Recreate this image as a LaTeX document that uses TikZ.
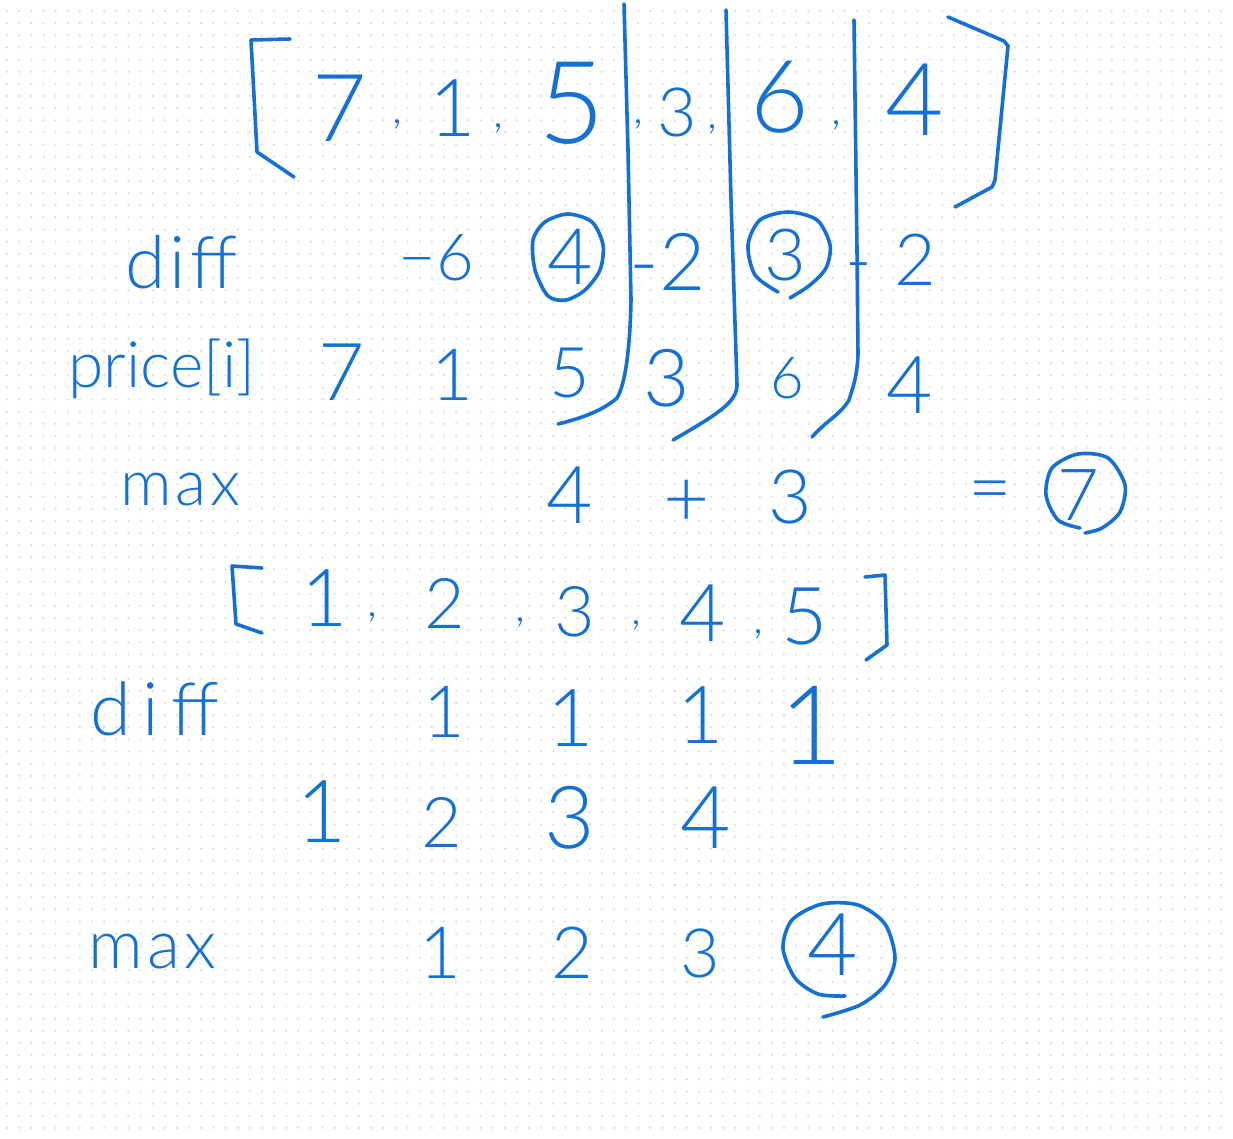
\documentclass[tikz,border=0pt]{standalone}
\usepackage{fontspec}
\setmainfont{Lato Light}
\definecolor{hw}{HTML}{1570D6}
\definecolor{dotc}{HTML}{D8DBE4}
\tikzset{
 ink/.style={draw=hw, line width=3.6pt, line cap=round, line join=round},
 dg/.style={text=hw, inner sep=0pt, font=\fontsize{#1}{#1}\selectfont},
 lab/.style={text=hw, inner sep=0pt, anchor=base west, font=\fontsize{#1}{#1}\selectfont\addfontfeature{LetterSpace=6}},
 dotrow/.style={draw=dotc, line width=2.4pt, line cap=round, dash pattern=on 0pt off 12.14pt},
}
\begin{document}
\begin{tikzpicture}[x=1pt,y=-1pt]
\useasboundingbox (0,0) rectangle (1233,1138);
\fill[white] (0,0) rectangle (1233,1138);
\foreach \j in {0,...,92} \draw[dotrow] (7,{11+12.14*\j}) -- (1233,{11+12.14*\j});

% ---- top array [7,1,5,3,6,4]
\draw[ink] (290,39) -- (251,40) -- (257,152) -- (294,177);
\draw[ink] (948,17) -- (1004,41) -- (1008,46) -- (995,180) -- (992,187) -- (955,207);
\node[dg=94]  (t7) at (340,108) {7};
\node[dg=45]  (tc1) at (397,124) {,};
\node[dg=80]  (t1) at (453,108) {1};
\node[dg=45]  (tc2) at (498,128) {,};
\node[dg=115] (t5) at (572,103) {5};
\node[dg=45]  (tc3) at (638,124) {,};
\node[dg=68]  (t3) at (677,112) {3};
\node[dg=45]  (tc4) at (712,129) {,};
\node[dg=101] (t6) at (780,97) {6};
\node[dg=45]  (tc5) at (836,125) {,};
\node[dg=101] (t4) at (915,100) {4};

% ---- separators
\draw[ink] (624,4) -- (628,150) -- (631,300) .. controls (630,350) and (625,385) .. (617,398) .. controls (602,411) and (582,418) .. (558,424);
\draw[ink] (726,10) -- (731,200) -- (737,385) .. controls (737,402) and (718,414) .. (673,440);
\draw[ink] (854,20) -- (857,250) -- (858,355) .. controls (857,378) and (852,390) .. (849,400) .. controls (840,415) and (826,421) .. (812,437);

% ---- diff row
\node[lab=73] (ldiff1) at (125,288) {diff};
\node[dg=65, anchor=east] (dm6) at (474,258) {−6};
\node[dg=78] (d4) at (570,257) {4};
\draw[ink] plot[smooth cycle] coordinates {(548,296) (535,270) (533,240) (545,222) (568,214) (592,222) (603,245) (600,270) (585,290) (566,300)};
\node[dg=80, anchor=east] (dm2a) at (706,262) {-2};
\node[dg=72] (d3) at (785,255) {3};
\draw[ink] plot[smooth] coordinates {(778,292) (755,275) (748,245) (760,220) (788,212) (817,220) (830,245) (826,268) (810,285) (790,298)};
\node[dg=72, anchor=east] (dm2b) at (936,260) {-\kern0.3em2};

% ---- price[i] row
\node[lab=64, font=\fontsize{64}{64}\selectfont] (lprice) at (68,387) {price[i]};
\node[dg=80] (p7) at (342,372) {7};
\node[dg=72] (p1) at (452,375) {1};
\node[dg=70] (p5) at (570,373) {5};
\node[dg=80] (p3) at (667,378) {3};
\node[dg=58] (p6) at (787,378) {6};
\node[dg=80] (p4) at (910,385) {4};

% ---- max row
\node[lab=64] (lmax1) at (120,505) {max};
\node[dg=80] (m4) at (570,495) {4};
\node[dg=80] (mplus) at (687,503) {+};
\node[dg=75] (m3) at (790,497) {3};
\node[dg=75] (meq) at (990,497) {=};
\node[dg=72] (m7) at (1078,495) {7};
\draw[ink] plot[smooth] coordinates {(1080,528) (1058,520) (1046,495) (1052,468) (1078,454) (1108,458) (1125,485) (1120,512) (1102,528) (1085,533)};

% ---- second array [1,2,3,4,5]
\draw[ink] (262,568) -- (232,566) -- (236,624) -- (262,633);
\draw[ink] (865,577) -- (885,575) -- (887,645) -- (866,660);
\node[dg=80] (s1) at (325,598) {1};
\node[dg=45] (sc1) at (372,617) {,};
\node[dg=70] (s2) at (445,603) {2};
\node[dg=45] (sc2) at (520,622) {,};
\node[dg=70] (s3) at (575,612) {3};
\node[dg=45] (sc3) at (636,625) {,};
\node[dg=80] (s4) at (703,613) {4};
\node[dg=45] (sc4) at (758,634) {,};
\node[dg=80] (s5) at (805,617) {5};

% ---- diff row 2
\node[lab=74, font=\fontsize{74}{74}\selectfont\addfontfeature{LetterSpace=16}] (ldiff2) at (90,735) {diff};
\node[dg=72]  (e1) at (444,712) {1};
\node[dg=80]  (e2) at (571,718) {1};
\node[dg=80]  (e3) at (701,715) {1};
\node[dg=110] (e4) at (811,725) {1};

% ---- running row
\node[dg=87] (r1) at (322,812) {1};
\node[dg=70] (r2) at (442,822) {2};
\node[dg=87] (r3) at (570,818) {3};
\node[dg=87] (r4) at (706,818) {4};

% ---- max row 2
\node[lab=68] (lmax2) at (88,968) {max};
\node[dg=72] (x1) at (440,953) {1};
\node[dg=72] (x2) at (572,953) {2};
\node[dg=68] (x3) at (700,953) {3};
\node[dg=87] (x4) at (833,945) {4};
\draw[ink] plot[smooth] coordinates {(845,996) (818,994) (795,978) (783,948) (792,920) (822,904) (858,905) (885,924) (895,958) (885,985) (860,1005) (823,1017)};
\end{tikzpicture}
\end{document}
